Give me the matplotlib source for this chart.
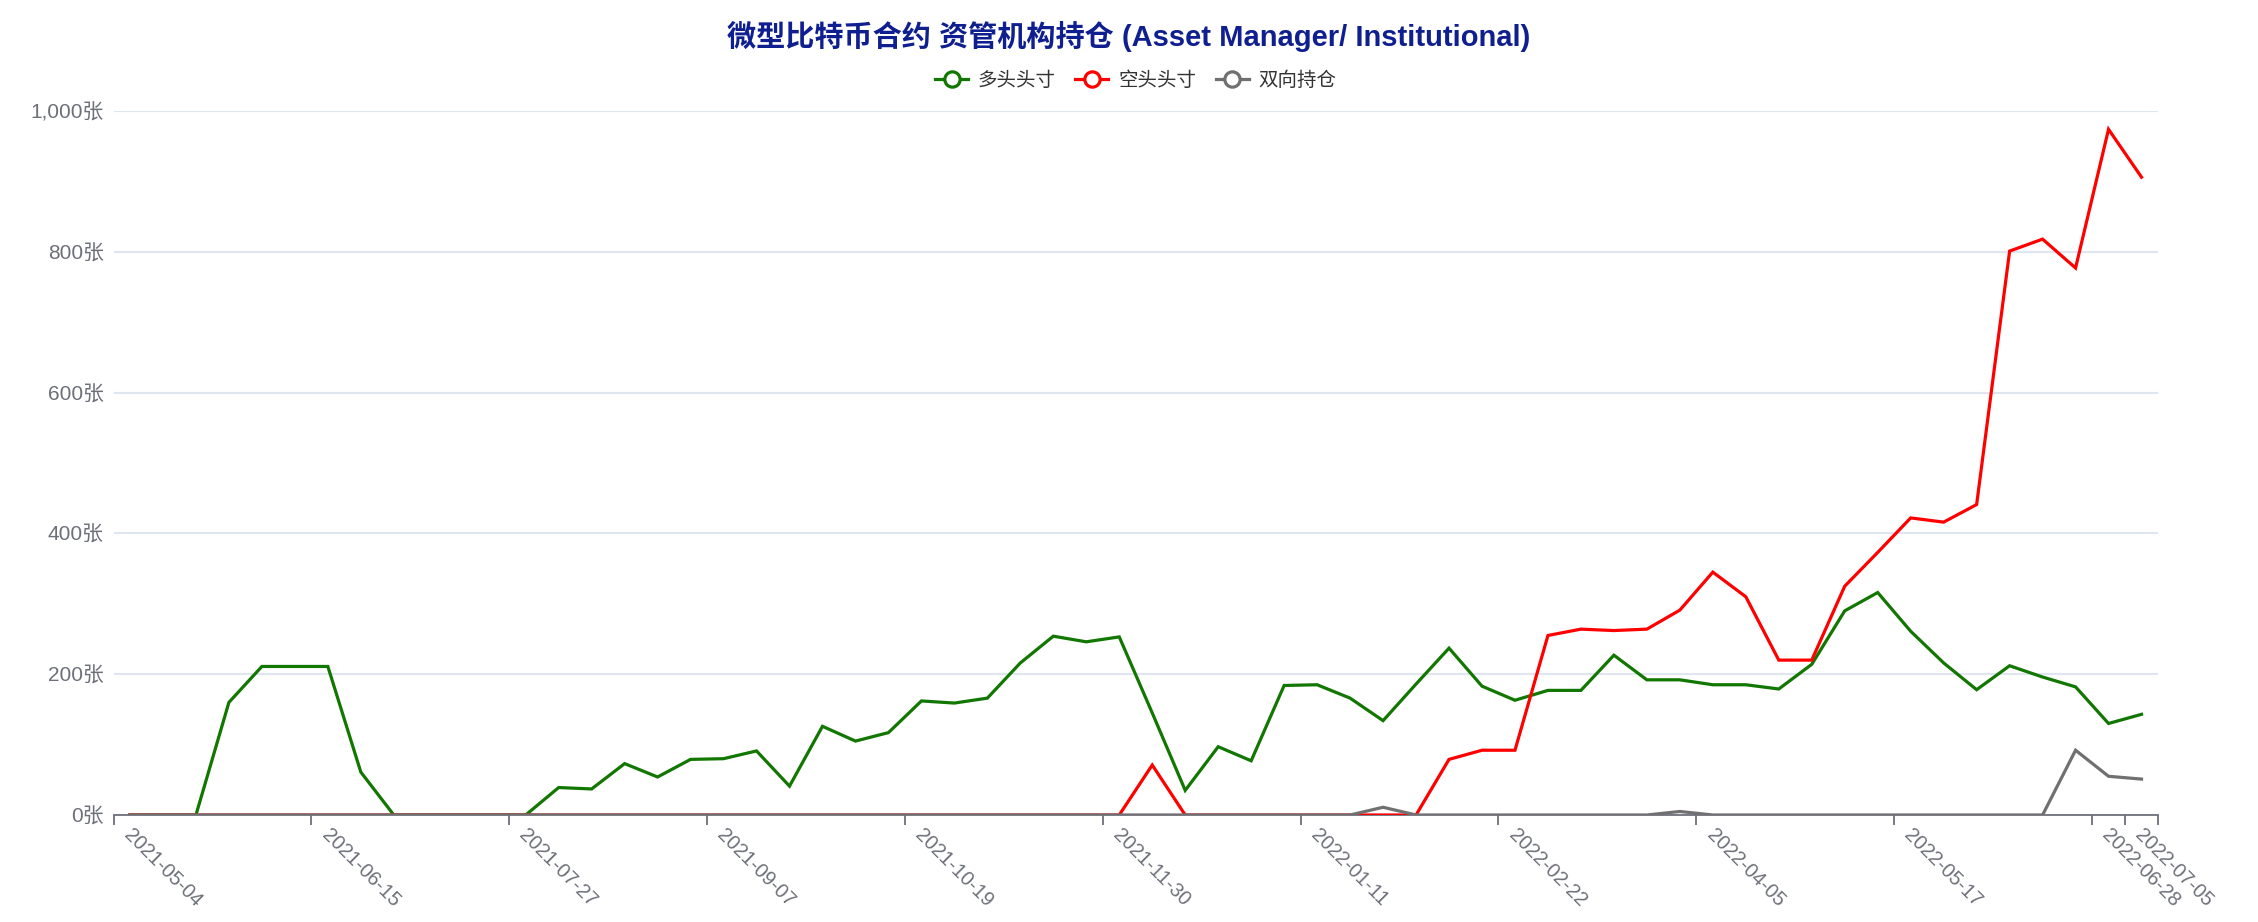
import matplotlib
matplotlib.use("Agg")
import matplotlib.pyplot as plt
from matplotlib.ticker import FixedLocator, FuncFormatter
from matplotlib.lines import Line2D
import pandas as pd
import numpy as np

# ---------------- data ----------------
dates = pd.date_range("2021-05-04", "2022-07-05", freq="7D").strftime("%Y-%m-%d").tolist()

long_pos = [0, 0, 0, 160, 211, 211, 211, 61, 0, 0, 0, 0, 0,
            39, 37, 73, 54, 79, 80, 91, 41, 126, 105, 117, 162, 159, 166, 216, 254, 246, 253,
            145, 35, 97, 77, 184, 185, 166, 134, 186, 237, 183, 163, 177, 177, 227, 192, 192,
            185, 185, 179, 214, 290, 316, 261, 216, 178, 212, 196, 182, 130, 143]
short_pos = [0] * 31 + [71] + [0] * 8 + [79, 92, 92, 255, 264, 262, 264, 291, 345, 310,
                                       220, 220, 325, 373, 422, 416, 441, 801, 818, 777, 974, 906]
spread_pos = [0] * 38 + [11] + [0] * 8 + [5] + [0] * 11 + [92, 55, 51]

series_names = ["多头头寸", "空头头寸", "双向持仓"]
series_colors = ["#117700", "#ff0000", "#707070"]
y_ticks = [0, 200, 400, 600, 800, 1000]
title = "微型比特币合约 资管机构持仓 (Asset Manager/ Institutional)"

FONT = ["Liberation Sans", "Noto Sans CJK SC", "DejaVu Sans"]
plt.rcParams["font.family"] = FONT

W, H = 2258, 922
fig = plt.figure(figsize=(W / 100, H / 100), dpi=100)
left, right = 113.5 / W, 2158 / W
bottom, top = 1 - 815 / H, 1 - 111 / H
ax = fig.add_axes([left, bottom, right - left, top - bottom])

n = len(dates)
x = np.arange(n) + 0.5
for vals, name, col in zip([long_pos, short_pos, spread_pos], series_names, series_colors):
    ax.plot(x, vals, color=col, lw=2.3, solid_joinstyle="miter", label=name, zorder=3)

ax.set_xlim(0, n)
ax.set_ylim(0, 1000)

# grid
ax.set_yticks(y_ticks)
ax.yaxis.set_major_formatter(FuncFormatter(lambda v, p: f"{int(v):,}张"))
ax.grid(axis="y", color="#e0e6f1", lw=1.5, zorder=0)
ax.tick_params(axis="y", length=0, pad=7, labelsize=15, labelcolor="#6e7079")

# x ticks at category boundaries, labels at category centres
label_idx = list(range(0, n, 6)) + [n - 1]
tick_bounds = label_idx + [n]
ax.xaxis.set_major_locator(FixedLocator(tick_bounds))
ax.xaxis.set_major_formatter(FuncFormatter(lambda v, p: ""))
ax.tick_params(axis="x", length=7, width=1.3, color="#6e7079", direction="out")
for i in label_idx:
    ax.text(i + 0.6, -15, dates[i], rotation=-45, rotation_mode="anchor",
            ha="left", va="top", fontsize=14.3, color="#6e7079")

for s in ["top", "right", "left"]:
    ax.spines[s].set_visible(False)
ax.spines["bottom"].set_color("#6e7079")
ax.spines["bottom"].set_linewidth(1.3)

# title
fig.text(0.5, 1 - 36 / H, title, ha="center", va="center", fontsize=21,
         fontweight="bold", color="#0f1f8f")

# legend
handles = [Line2D([0], [0], color=c, lw=2.3, marker="o", ms=11, mfc="white", mec=c, mew=2.3)
           for c in series_colors]
fig.legend(handles, series_names, loc="center", bbox_to_anchor=(0.503, 1 - 81 / H), ncol=3,
           frameon=False, fontsize=14, handlelength=1.7, handletextpad=0.5,
           columnspacing=1.0, labelcolor="#333333")

fig.savefig("out.png", dpi=100, facecolor="white")
